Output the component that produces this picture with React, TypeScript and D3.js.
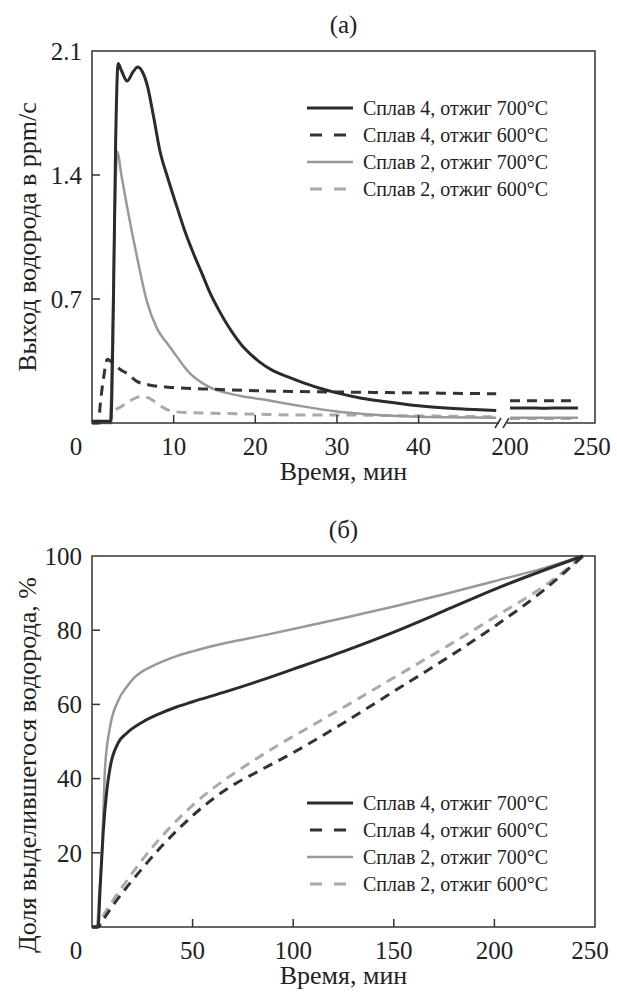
import React from "react";
import * as d3 from "d3";

type Pt = [number, number];

// ---------- Panel (a): hydrogen release rate, ppm/s ----------
const rateYTicks = [0.7, 1.4, 2.1];
const rateXTicksLeft = [10, 20, 30, 40];
const rateXLabelsLeft = ["0", "10", "20", "30", "40"];
const rateXLabelsRight = ["200", "250"];

const rate4_700_left: Pt[] = [
  [0, 0.01], [1, 0.01], [2.3, 0.01], [2.6, 0.6], [2.9, 1.6], [3.2, 2.03], [3.6, 1.99],
  [4.3, 1.93], [5.0, 1.98], [5.6, 2.01], [6.2, 1.98], [6.8, 1.9], [7.5, 1.74], [8.3, 1.54],
  [9.3, 1.38], [10.4, 1.22], [11.4, 1.08], [12.4, 0.96], [13.5, 0.84], [14.5, 0.73],
  [15.5, 0.64], [16.5, 0.56], [17.5, 0.49], [18.5, 0.43], [19.5, 0.385], [20.5, 0.345],
  [22, 0.3], [24, 0.26], [26, 0.225], [28, 0.195], [30, 0.17], [33, 0.14], [36, 0.12],
  [40, 0.097], [45, 0.08], [49.5, 0.07],
];
const rate4_700_right: Pt[] = [[200, 0.085], [210, 0.085], [220, 0.083], [230, 0.085], [240, 0.084]];

const rate4_600_left: Pt[] = [
  [0, 0.0], [0.8, 0.0], [1.0, 0.1], [1.4, 0.25], [1.9, 0.36], [2.5, 0.34], [3.5, 0.3],
  [4.3, 0.28], [5.5, 0.235], [7, 0.215], [10, 0.2], [15, 0.19], [20, 0.182], [30, 0.175],
  [40, 0.17], [49.5, 0.165],
];
const rate4_600_right: Pt[] = [[200, 0.125], [220, 0.125], [240, 0.125]];

const rate2_700_left: Pt[] = [
  [0, 0.0], [2.2, 0.0], [2.5, 0.5], [2.8, 1.2], [3.1, 1.53], [3.6, 1.4], [4.3, 1.22],
  [5.5, 0.94], [6.7, 0.69], [8, 0.53], [9.2, 0.45], [10, 0.4], [11.1, 0.33], [12, 0.28],
  [13.2, 0.235], [14.5, 0.2], [16.5, 0.17], [18.5, 0.15], [20.6, 0.135], [25, 0.1],
  [30, 0.065], [35, 0.045], [40, 0.035], [49.5, 0.03],
];
const rate2_700_right: Pt[] = [[200, 0.03], [220, 0.03], [240, 0.03]];

const rate2_600_left: Pt[] = [
  [0, 0.0], [2.3, 0.0], [2.5, 0.06], [3.5, 0.09], [4.5, 0.12], [5.5, 0.145], [6.2, 0.15],
  [7, 0.14], [8, 0.11], [9, 0.08], [10, 0.065], [12, 0.058], [15, 0.055], [20, 0.05],
  [25, 0.045], [30, 0.045], [40, 0.04], [49.5, 0.035],
];
const rate2_600_right: Pt[] = [[200, 0.025], [220, 0.025], [240, 0.025]];

// ---------- Panel (б): released hydrogen fraction, % ----------
const fracYTicks = [20, 40, 60, 80, 100];
const fracXTicks = [50, 100, 150, 200];
const fracXLabels = ["0", "50", "100", "150", "200", "250"];

const frac4_700: Pt[] = [
  [0, 0], [3, 0], [4, 10], [5.5, 25], [7.4, 37], [9, 43], [13, 49.6], [17.4, 52.3],
  [25, 55.2], [34, 57.6], [42, 59.3], [50, 60.7], [67, 63.5], [83.5, 66.4], [100, 69.5],
  [125, 74.3], [150, 79.5], [175, 85.2], [200, 91], [244, 100],
];
const frac4_600: Pt[] = [
  [0, 0], [3, 0], [5, 1.5], [10, 5.5], [17.4, 10.8], [25, 15.8], [34, 21.4], [42, 25.9],
  [50, 30], [67, 37.2], [83.5, 42.2], [100, 47], [125, 55], [150, 63.5], [175, 72],
  [200, 81], [225, 91], [244, 100],
];
const frac2_700: Pt[] = [
  [0, 0], [2.5, 0], [3.5, 8], [5, 21], [6.5, 43], [9, 54], [13, 61], [17.4, 64.8],
  [21, 67.2], [25, 68.9], [30, 70.3], [34, 71.3], [42, 73], [50, 74.3], [67, 76.6],
  [83.5, 78.4], [100, 80.3], [125, 83.3], [150, 86.4], [175, 89.7], [200, 93.2],
  [225, 96.8], [244, 100],
];
const frac2_600: Pt[] = [
  [0, 0], [2.5, 0], [5, 2.5], [10, 6.8], [20, 14.5], [30, 21.5], [40, 27.5], [50, 32.8],
  [60, 37.3], [75, 43], [90, 48.2], [110, 54.5], [130, 60.8], [150, 67.2], [175, 75.2],
  [200, 83.5], [225, 92], [244, 100],
];

const legendLabels = [
  "Сплав 4, отжиг 700°C",
  "Сплав 4, отжиг 600°C",
  "Сплав 2, отжиг 700°C",
  "Сплав 2, отжиг 600°C",
];

const styles = [
  { stroke: "#2b2b2b", width: 3, dash: undefined as string | undefined },
  { stroke: "#333333", width: 3, dash: "10,7" },
  { stroke: "#999999", width: 2.5, dash: undefined as string | undefined },
  { stroke: "#aaaaaa", width: 3, dash: "10,7" },
];

const FONT = "Liberation Serif, DejaVu Serif, Times New Roman, serif";

function Legend({ x, y, step }: { x: number; y: number; step: number }) {
  return (
    <g>
      {legendLabels.map((lab, i) => (
        <g key={lab}>
          <line
            x1={x}
            x2={x + 46}
            y1={y + i * step}
            y2={y + i * step}
            stroke={styles[i].stroke}
            strokeWidth={styles[i].width}
            strokeDasharray={styles[i].dash ? "12,12" : undefined}
            strokeDashoffset={styles[i].dash ? -3 : undefined}
          />
          <text x={x + 56} y={y + i * step} dy="0.35em" fontSize={20} fill="#222">
            {lab}
          </text>
        </g>
      ))}
    </g>
  );
}

export default function App() {
  // panel (a) geometry
  const aL = 92, aR = 595, aT = 51, aB = 423;
  const xl = d3.scaleLinear().domain([0, 49.6]).range([aL, 497]);
  const xr = d3.scaleLinear().domain([200, 250]).range([510, aR]);
  const ya = d3.scaleLinear().domain([0, 2.1]).range([aB, aT]);
  const lineL = d3.line<Pt>().x((d) => xl(d[0])).y((d) => ya(d[1])).curve(d3.curveMonotoneX);
  const lineR = d3.line<Pt>().x((d) => xr(d[0])).y((d) => ya(d[1])).curve(d3.curveMonotoneX);
  const leftSeries = [rate4_700_left, rate4_600_left, rate2_700_left, rate2_600_left];
  const rightSeries = [rate4_700_right, rate4_600_right, rate2_700_right, rate2_600_right];

  // panel (б) geometry
  const bL = 92, bR = 595, bT = 556, bB = 927;
  const xb = d3.scaleLinear().domain([0, 250]).range([bL, bR]);
  const yb = d3.scaleLinear().domain([0, 100]).range([bB, bT]);
  const lineB = d3.line<Pt>().x((d) => xb(d[0])).y((d) => yb(d[1])).curve(d3.curveMonotoneX);
  const fracSeries = [frac4_700, frac4_600, frac2_700, frac2_600];

  const drawOrder = [3, 2, 1, 0];

  return (
    <svg width={617} height={995} style={{ position: "absolute", left: 0, top: 0, background: "#fff", fontFamily: FONT }}>
      <rect x={0} y={0} width={617} height={995} fill="#fff" />
      {/* ---------- panel (a) ---------- */}
      <text x={(aL + aR) / 2} y={24} dy="0.35em" textAnchor="middle" fontSize={25} fill="#222">(a)</text>
      {drawOrder.map((i) => (
        <g key={"a" + i}>
          <path d={lineL(leftSeries[i]) || ""} fill="none" stroke={styles[i].stroke} strokeWidth={styles[i].width} strokeDasharray={styles[i].dash} strokeLinejoin="round" />
          <path d={lineR(rightSeries[i]) || ""} fill="none" stroke={styles[i].stroke} strokeWidth={styles[i].width} strokeDasharray={styles[i].dash} strokeLinejoin="round" />
        </g>
      ))}
      <rect x={aL} y={aT} width={aR - aL} height={aB - aT} fill="none" stroke="#333" strokeWidth={1.5} />
      {rateYTicks.slice(0, 2).map((t) => (
        <line key={t} x1={aL} x2={aL + 8} y1={ya(t)} y2={ya(t)} stroke="#333" strokeWidth={1.5} />
      ))}
      {rateYTicks.map((t) => (
        <text key={t} x={82} y={ya(t)} dy="0.35em" textAnchor="end" fontSize={25} fill="#222">{t.toFixed(1)}</text>
      ))}
      {rateXTicksLeft.map((t) => (
        <line key={t} x1={xl(t)} x2={xl(t)} y1={aB} y2={aB - 8} stroke="#333" strokeWidth={1.5} />
      ))}
      {rateXLabelsLeft.map((lab) => (
        <text key={lab} x={lab === "0" ? 76 : xl(+lab)} y={446} dy="0.35em" textAnchor="middle" fontSize={25} fill="#222">{lab}</text>
      ))}
      {rateXLabelsRight.map((lab) => (
        <text key={lab} x={lab === "250" ? 592 : xr(+lab)} y={446} dy="0.35em" textAnchor="middle" fontSize={25} fill="#222">{lab}</text>
      ))}
      {/* axis break */}
      <rect x={499} y={aB - 2} width={8} height={4} fill="#fff" />
      <line x1={495} x2={501} y1={aB + 5} y2={aB - 5} stroke="#333" strokeWidth={1.5} />
      <line x1={503} x2={509} y1={aB + 5} y2={aB - 5} stroke="#333" strokeWidth={1.5} />
      <text x={(aL + aR) / 2} y={471} dy="0.35em" textAnchor="middle" fontSize={26} fill="#222">Время, мин</text>
      <text transform={`translate(27,${(aT + aB) / 2}) rotate(-90)`} dy="0.35em" textAnchor="middle" fontSize={26} fill="#222">Выход водорода в ppm/с</text>
      <Legend x={307} y={108} step={27} />

      {/* ---------- panel (б) ---------- */}
      <text x={(bL + bR) / 2} y={529} dy="0.35em" textAnchor="middle" fontSize={25} fill="#222">(б)</text>
      {drawOrder.map((i) => (
        <path key={"b" + i} d={lineB(fracSeries[i]) || ""} fill="none" stroke={styles[i].stroke} strokeWidth={styles[i].width} strokeDasharray={styles[i].dash} strokeLinejoin="round" />
      ))}
      <rect x={bL} y={bT} width={bR - bL} height={bB - bT} fill="none" stroke="#333" strokeWidth={1.5} />
      {fracYTicks.slice(0, 4).map((t) => (
        <line key={t} x1={bL} x2={bL + 8} y1={yb(t)} y2={yb(t)} stroke="#333" strokeWidth={1.5} />
      ))}
      {fracYTicks.map((t) => (
        <text key={t} x={82} y={yb(t)} dy="0.35em" textAnchor="end" fontSize={25} fill="#222">{t}</text>
      ))}
      {fracXTicks.map((t) => (
        <line key={t} x1={xb(t)} x2={xb(t)} y1={bB} y2={bB - 8} stroke="#333" strokeWidth={1.5} />
      ))}
      {fracXLabels.map((lab) => (
        <text key={lab} x={lab === "0" ? 76 : lab === "250" ? 590 : xb(+lab)} y={950} dy="0.35em" textAnchor="middle" fontSize={25} fill="#222">{lab}</text>
      ))}
      <text x={(bL + bR) / 2} y={975} dy="0.35em" textAnchor="middle" fontSize={26} fill="#222">Время, мин</text>
      <text transform={`translate(27,${765}) rotate(-90)`} dy="0.35em" textAnchor="middle" fontSize={26} fill="#222">Доля выделившегося водорода, %</text>
      <Legend x={307} y={803} step={27} />
    </svg>
  );
}
